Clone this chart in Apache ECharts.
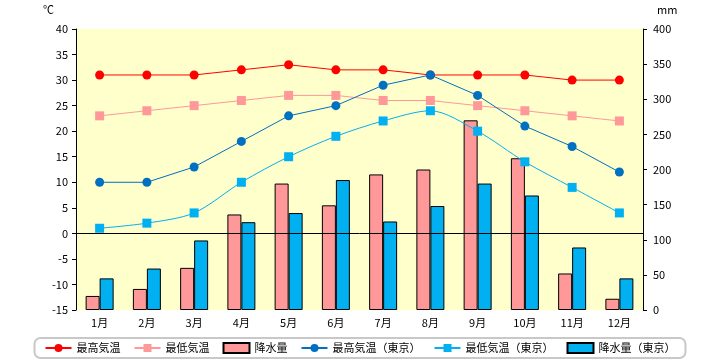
<!DOCTYPE html>
<html><head><meta charset="utf-8">
<script src="https://cdn.jsdelivr.net/npm/echarts@6/dist/echarts.min.js"></script>
<style>html,body{margin:0;padding:0;background:#fff}#c{width:720px;height:360px}</style>
</head><body><div id="c"></div>
<script>
var months = ['1月','2月','3月','4月','5月','6月','7月','8月','9月','10月','11月','12月'];
var maxTemp = [31,31,31,32,33,32,32,31,31,31,30,30];
var minTemp = [23,24,25,26,27,27,26,26,25,24,23,22];
var precip = [20,30,60,136,180,149,193,200,270,216,52,16];
var maxTempTokyo = [10,10,13,18,23,25,29,31,27,21,17,12];
var minTempTokyo = [1,2,4,10,15,19,22,24,20,14,9,4];
var precipTokyo = [45,59,99,125,138,185,126,148,180,163,89,45];
var names = ['最高気温','最低気温','降水量','最高気温（東京）','最低気温（東京）','降水量（東京）'];

var font = '"Noto Sans CJK JP", sans-serif';
var chart = echarts.init(document.getElementById('c'));
chart.setOption({
  animation: false,
  textStyle: {fontFamily: font},
  grid: {left: 76, right: 77, top: 29, bottom: 50, show: true, backgroundColor: '#ffffcc', borderWidth: 0},
  legend: {
    bottom: 2, left: 'center', itemWidth: 26, itemHeight: 10, itemGap: 13,
    padding: [4, 10, 4, 10],
    borderColor: '#c8c8c8', borderWidth: 2, borderRadius: 6,
    textStyle: {fontSize: 11, color: '#000', fontFamily: font},
    data: [
      {name: names[0]}, {name: names[1]},
      {name: names[2], icon: 'rect'},
      {name: names[3]}, {name: names[4]},
      {name: names[5], icon: 'rect'}
    ]
  },
  xAxis: {
    type: 'category', data: months,
    axisLine: {show: false}, axisTick: {show: false},
    axisLabel: {color: '#000', fontSize: 11, margin: 7}
  },
  yAxis: [
    {type: 'value', min: -15, max: 40, interval: 5, name: '℃', nameGap: 14,
     nameTextStyle: {color: '#000', fontSize: 11, align: 'right', padding: [0, 22, 0, 0]},
     axisLine: {show: true, lineStyle: {color: '#000'}},
     axisTick: {show: true, length: 4, lineStyle: {color: '#000'}},
     axisLabel: {color: '#000', fontSize: 11, margin: 8},
     splitLine: {show: false}},
    {type: 'value', min: 0, max: 400, interval: 50, name: 'mm', nameGap: 14,
     nameTextStyle: {color: '#000', fontSize: 11, align: 'left', padding: [0, 0, 0, 14]},
     axisLine: {show: true, lineStyle: {color: '#000'}},
     axisTick: {show: true, length: 4, lineStyle: {color: '#000'}},
     axisLabel: {color: '#000', fontSize: 11, margin: 10},
     splitLine: {show: false}}
  ],
  series: [
    {name: names[0], type: 'line', yAxisIndex: 0, data: maxTemp, z: 5,
     symbol: 'circle', symbolSize: 9,
     itemStyle: {color: '#ff0000'}, lineStyle: {color: '#ff0000', width: 1},
     markLine: {silent: true, symbol: 'none', label: {show: false},
       lineStyle: {color: '#000', type: 'solid', width: 1}, data: [{yAxis: 0}]}},
    {name: names[1], type: 'line', yAxisIndex: 0, data: minTemp, z: 4,
     symbol: 'rect', symbolSize: 9,
     itemStyle: {color: '#ff9999'}, lineStyle: {color: '#ff9999', width: 1}},
    {name: names[2], type: 'bar', yAxisIndex: 1, data: precip, barWidth: 14, barGap: '0%',
     itemStyle: {color: '#ff9999', borderColor: '#000', borderWidth: 1}},
    {name: names[3], type: 'line', yAxisIndex: 0, data: maxTempTokyo, z: 5,
     symbol: 'circle', symbolSize: 9,
     itemStyle: {color: '#0070c0'}, lineStyle: {color: '#0070c0', width: 1}},
    {name: names[4], type: 'line', yAxisIndex: 0, data: minTempTokyo, z: 4, smooth: 0.3,
     symbol: 'rect', symbolSize: 9,
     itemStyle: {color: '#00b0f0'}, lineStyle: {color: '#00b0f0', width: 1}},
    {name: names[5], type: 'bar', yAxisIndex: 1, data: precipTokyo, barWidth: 14, barGap: '0%',
     itemStyle: {color: '#00b0f0', borderColor: '#000', borderWidth: 1}}
  ]
});
</script></body></html>
